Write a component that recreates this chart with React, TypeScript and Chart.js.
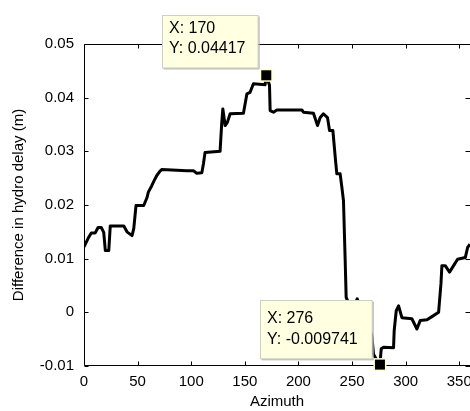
import { useEffect, useRef } from 'react';
import { Chart, registerables } from 'chart.js';

Chart.register(...registerables);

const azimuth = [
  0, 4.4, 6.8, 10.5, 13.1, 16.1, 18.4, 19.9, 23.1, 24.5, 37.1, 40.1, 44.8, 46.4, 48.5, 55.7,
  58.8, 60, 63.2, 65.3, 67.9, 70.9, 72.5, 95.9, 102, 105.2, 109.9, 111.4, 112.9, 126.9, 128.5,
  129.5, 131.6, 133.7, 136.3, 148.7, 151.9, 154.9, 158, 168.9, 170, 173, 173.6, 176.7, 179.9,
  203.2, 204.7, 214, 217.8, 220.3, 223.3, 227.1, 229, 232.1, 234.3, 235.8, 238.9, 240.5, 242,
  243.6, 244.5, 246.4, 253.6, 254.8, 256, 260, 264, 268.5, 270, 274.4, 276, 277.2, 279.4, 288.7,
  289.3, 291.2, 293.4, 296.5, 305.8, 310.5, 313.6, 319.9, 324.5, 330.7, 332.9, 333.8, 336.9,
  340.9, 344.7, 348.4, 355.6, 357.8, 360,
];

const hydroDelayDiff = [
  0.0122, 0.014, 0.0148, 0.0148, 0.0158, 0.0158, 0.0149, 0.0115, 0.0115, 0.0161, 0.0161, 0.015,
  0.0143, 0.0156, 0.0199, 0.0199, 0.0214, 0.0224, 0.0236, 0.0245, 0.0255, 0.0263, 0.0266, 0.0264,
  0.0264, 0.0259, 0.026, 0.0277, 0.0298, 0.03, 0.0354, 0.0379, 0.0348, 0.0354, 0.037, 0.0371,
  0.0407, 0.041, 0.0426, 0.0424, 0.04417, 0.0423, 0.0376, 0.0373, 0.0377, 0.0377, 0.0373, 0.0371,
  0.0348, 0.0363, 0.037, 0.0363, 0.0339, 0.0339, 0.0289, 0.0258, 0.0258, 0.0233, 0.0208, 0.0096,
  0.0028, 0.0019, 0.0019, 0.0025, 0.0019, 0.0015, -0.001, -0.0044, -0.0078, -0.0094, -0.009741,
  -0.0068, -0.0065, -0.0066, -0.0034, 0.0003, 0.0012, -0.001, -0.0012, -0.0031, -0.0015, -0.0014,
  -0.0008, 0.0, 0.0053, 0.0087, 0.0087, 0.0075, 0.0087, 0.0099, 0.0102, 0.0121, 0.0127,
];

const xTickValues = [0, 50, 100, 150, 200, 250, 300, 350];
const xTickLabels = ['0', '50', '100', '150', '200', '250', '300', '350'];
const yTickValues = [-0.01, 0, 0.01, 0.02, 0.03, 0.04, 0.05];
const yTickLabels = ['-0.01', '0', '0.01', '0.02', '0.03', '0.04', '0.05'];

const tipX = [170, 276];
const tipY = [0.04417, -0.009741];
const tipLines = [
  ['X: 170', 'Y: 0.04417'],
  ['X: 276', 'Y: -0.009741'],
];

const FONT = "'Liberation Sans', Arial, sans-serif";

// box geometry relative to marker centre: [dx-left, dy-top, width, height, line1 offset, line2 offset]
const tipBoxes = [
  [-104.3, -60, 95.6, 52.4, 13.4, 33.4],
  [-119.5, -65, 111.7, 58.3, 18.3, 38.7],
];

function labelFor(values: number[], labels: string[], v: number) {
  const i = values.findIndex((t) => Math.abs(t - v) < 1e-9);
  return i >= 0 ? labels[i] : '';
}

const framePlugin = {
  id: 'matlabFrame',
  beforeDatasetsDraw(chart: any) {
    const { ctx, chartArea: a, scales } = chart;
    const xs = scales.x;
    const ys = scales.y;
    ctx.save();
    ctx.strokeStyle = '#000';
    ctx.lineWidth = 1;
    const L = Math.round(a.left) + 0.5;
    const T = Math.round(a.top) + 0.5;
    const B = Math.round(a.bottom) - 0.5;
    const R = Math.round(a.right) + 0.5;
    ctx.beginPath();
    ctx.moveTo(L, B);
    ctx.lineTo(L, T);
    ctx.lineTo(R, T);
    ctx.lineTo(R, B);
    ctx.lineTo(L, B);
    ctx.stroke();
    const tl = 4;
    ctx.beginPath();
    xTickValues.forEach((v) => {
      const px = Math.round(xs.getPixelForValue(v)) + 0.5;
      ctx.moveTo(px, B);
      ctx.lineTo(px, B - tl);
      ctx.moveTo(px, T);
      ctx.lineTo(px, T + tl);
    });
    yTickValues.forEach((v) => {
      const py = Math.round(ys.getPixelForValue(v)) + 0.5;
      ctx.moveTo(L, py);
      ctx.lineTo(L + tl, py);
      ctx.moveTo(R, py);
      ctx.lineTo(R - tl - 1, py);
    });
    ctx.stroke();
    ctx.restore();
  },
  afterDraw(chart: any) {
    const { ctx, scales } = chart;
    const xs = scales.x;
    const ys = scales.y;
    ctx.save();
    tipX.forEach((xv, i) => {
      const mx = xs.getPixelForValue(xv);
      const my = ys.getPixelForValue(tipY[i]);
      // marker
      ctx.fillStyle = '#ffffd0';
      ctx.fillRect(mx - 6.5, my - 6.5, 13, 13);
      ctx.fillStyle = '#000';
      ctx.fillRect(mx - 5, my - 5, 10, 10);
      // box
      const [dx, dy, w, h, l1, l2] = tipBoxes[i];
      const bx = Math.round(mx + dx) + 0.5;
      const by = Math.round(my + dy) + 0.5;
      ctx.fillStyle = '#ffffe1';
      ctx.fillRect(bx, by, w, h);
      ctx.strokeStyle = '#cfcfc4';
      ctx.lineWidth = 1;
      ctx.strokeRect(bx, by, w, h);
      ctx.strokeStyle = '#b0b0a8';
      ctx.beginPath();
      ctx.moveTo(bx + 1, by + h + 1);
      ctx.lineTo(bx + w + 1, by + h + 1);
      ctx.lineTo(bx + w + 1, by + 1);
      ctx.stroke();
      ctx.fillStyle = '#000';
      ctx.font = `16px ${FONT}`;
      ctx.textBaseline = 'middle';
      ctx.textAlign = 'left';
      ctx.fillText(tipLines[i][0], bx + 6.5, by + l1);
      ctx.fillText(tipLines[i][1], bx + 6.5, by + l2);
    });
    ctx.restore();
  },
};

export default function App() {
  const ref = useRef<HTMLCanvasElement | null>(null);
  useEffect(() => {
    if (!ref.current) return;
    const chart = new Chart(ref.current, {
      type: 'line',
      data: {
        datasets: [
          {
            data: azimuth.map((x, i) => ({ x, y: hydroDelayDiff[i] })),
            borderColor: '#000',
            borderWidth: 3,
            pointRadius: 0,
            tension: 0,
            fill: false,
            borderJoinStyle: 'round',
          },
        ],
      },
      options: {
        animation: false,
        responsive: false,
        events: [],
        layout: { padding: { top: 44, left: 0, right: 0, bottom: 0 } },
        plugins: { legend: { display: false }, tooltip: { enabled: false } },
        scales: {
          x: {
            type: 'linear',
            min: 0,
            max: 360,
            afterBuildTicks: (s: any) => {
              s.ticks = xTickValues.map((value) => ({ value }));
            },
            afterFit: (s: any) => {
              s.height = 45;
              s.paddingLeft = 0;
              s.paddingRight = 0;
            },
            grid: { display: false, drawTicks: false },
            border: { display: false },
            ticks: {
              color: '#000',
              padding: 7,
              maxRotation: 0,
              autoSkip: false,
              font: { family: FONT, size: 15 },
              callback: (v: any) => labelFor(xTickValues, xTickLabels, Number(v)),
            },
            title: {
              display: true,
              text: 'Azimuth',
              color: '#000',
              font: { family: FONT, size: 15 },
              padding: { top: 0, bottom: 0 },
            },
          },
          y: {
            type: 'linear',
            min: -0.01,
            max: 0.05,
            afterBuildTicks: (s: any) => {
              s.ticks = yTickValues.map((value) => ({ value }));
            },
            afterFit: (s: any) => {
              s.width = 84;
              s.paddingTop = 0;
              s.paddingBottom = 0;
            },
            grid: { display: false, drawTicks: false },
            border: { display: false },
            ticks: {
              color: '#000',
              padding: 10,
              autoSkip: false,
              font: { family: FONT, size: 15 },
              callback: (v: any) => labelFor(yTickValues, yTickLabels, Number(v)),
            },
            title: {
              display: true,
              text: 'Difference in hydro delay (m)',
              color: '#000',
              font: { family: FONT, size: 15 },
              padding: { top: 10, bottom: 0 },
            },
          },
        },
      },
      plugins: [framePlugin],
    } as any);
    return () => chart.destroy();
  }, []);
  return (
    <div style={{ position: 'fixed', left: 0, top: 0, width: 470, height: 411, background: '#fff' }}>
      <canvas ref={ref} width={470} height={411} />
    </div>
  );
}
